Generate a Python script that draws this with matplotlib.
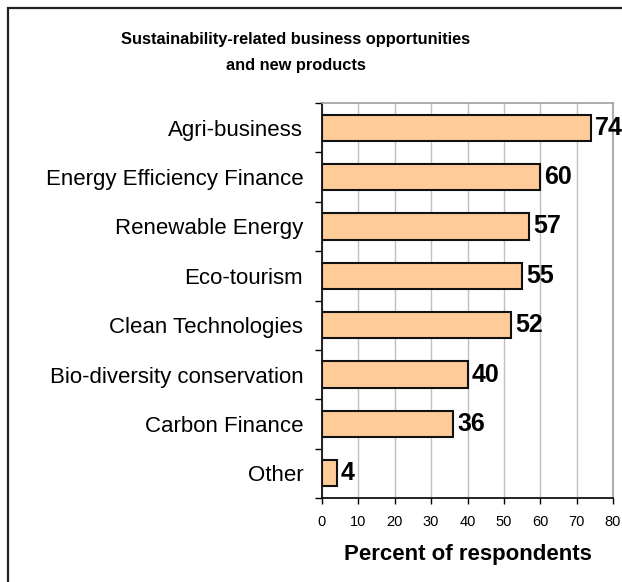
import numpy as np
import matplotlib
matplotlib.use('Agg')
import matplotlib.pyplot as plt
from matplotlib.patches import Rectangle

plt.rcParams['font.family'] = ['Liberation Sans', 'DejaVu Sans']

# Survey results
categories = ['Agri-business', 'Energy Efficiency Finance', 'Renewable Energy',
              'Eco-tourism', 'Clean Technologies', 'Bio-diversity conservation',
              'Carbon Finance', 'Other']
values = [74, 60, 57, 55, 52, 40, 36, 4]
x_ticks = [0, 10, 20, 30, 40, 50, 60, 70, 80]

W, H = 622, 582
fig = plt.figure(figsize=(W / 100, H / 100), dpi=100)
fig.patch.set_facecolor('white')

# outer chart frame (left and top edges visible)
fig.patches.append(Rectangle((8 / W, -0.2), 1.3, 1.2 - 8 / H,
                             transform=fig.transFigure, fill=False,
                             edgecolor='#222222', linewidth=1.6))

ax = fig.add_axes([322 / W, 1 - 498 / H, (613 - 322) / W, (498 - 103) / H])

y = np.arange(len(categories))
ax.barh(y, values, height=0.53, color='#FFCC99', edgecolor='#111111',
        linewidth=1.5, zorder=3)

for yi, v in zip(y, values):
    ax.annotate(str(v), (v, yi), xytext=(3, 0), textcoords='offset points',
                va='center', ha='left', fontsize=18, fontweight='bold',
                zorder=4, annotation_clip=False)

ax.set_xlim(0, 80)
ax.set_ylim(len(categories) - 0.5, -0.5)
ax.set_xticks(x_ticks)
ax.set_xticklabels([str(t) for t in x_ticks], fontsize=10.5)
ax.tick_params(axis='x', direction='out', length=4, width=1, pad=8)

ax.set_yticks(y)
ax.set_yticklabels(categories, fontsize=16)
ax.tick_params(axis='y', which='major', length=0, pad=13.5)
ax.set_yticks(np.arange(-0.5, len(categories)), minor=True)
ax.tick_params(axis='y', which='minor', direction='out', length=5, width=1)

ax.grid(axis='x', color='#C0C0C0', linewidth=1, zorder=0)
ax.set_axisbelow(True)
for side in ['left', 'bottom']:
    ax.spines[side].set_color('#111111')
    ax.spines[side].set_linewidth(1.3)
for side in ['top', 'right']:
    ax.spines[side].set_color('#A0A0A0')
    ax.spines[side].set_linewidth(1.2)

ax.set_xlabel('Percent of respondents', fontsize=16, fontweight='bold',
              labelpad=11)

fig.text(296 / W, 1 - 32 / H,
         'Sustainability-related business opportunities\nand new products',
         ha='center', va='top', fontsize=11.8, fontweight='bold',
         linespacing=1.9)

fig.savefig('out.png', dpi=100)
